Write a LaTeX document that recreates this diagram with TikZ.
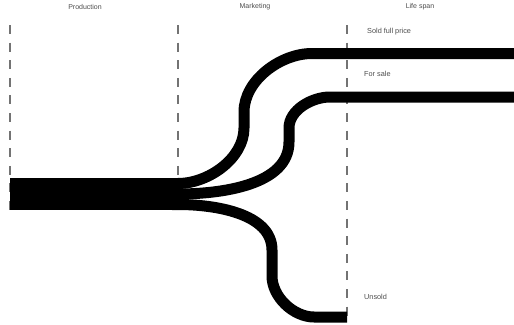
\documentclass[tikz,border=0pt]{standalone}
\usepackage{fontspec}
\setmainfont{Liberation Sans}
\begin{document}
\begin{tikzpicture}[x=1pt,y=-1pt,
  divider/.style={draw=black!55, line width=1.2pt, dash pattern=on 9pt off 8.6pt},
  stream/.style={draw=black, line width=11pt, line cap=butt},
  label/.style={font=\fontsize{7.3}{8}\selectfont, text=black!70, inner sep=0pt},
  head/.style={font=\fontsize{7}{8}\selectfont, text=black!70, inner sep=0pt}]
\useasboundingbox (0,0) rectangle (514,324);
% column headers
\node[head] (hprod) at (85,7) {Production};
\node[head] (hmark) at (255,7) {Marketing};
\node[head] (hlife) at (420,7) {Life span};
% dividers
\coordinate (d1t) at (10,25); \coordinate (d1b) at (10,211);
\coordinate (d2t) at (178,25); \coordinate (d2b) at (178,180);
\coordinate (d3t) at (347,25); \coordinate (d3b) at (347,322);
\draw[divider] (d1t) -- (d1b);
\draw[divider] (d2t) -- (d2b);
\draw[divider] (d3t) -- (d3b);
% main bar
\coordinate (src) at (10,194);
\coordinate (split) at (180,194);
\draw[draw=black, line width=32pt, line cap=butt] (src) -- (split);
% branch end points
\coordinate (e1) at (514,53.5);
\coordinate (e2) at (514,97);
\coordinate (e3) at (347,317);
% branches
\draw[stream] (172,183.5) -- (178,183.5) to[out=0,in=270,looseness=0.9] (244,128) -- (244,112) to[out=90,in=180,looseness=0.9] (312,53.5) -- (e1);
\draw[stream] (172,194) -- (178,194) to[out=0,in=270,looseness=0.9] (289,142) -- (289,128) to[out=90,in=180,looseness=0.9] (330,97) -- (e2);
\draw[stream] (172,204.5) -- (178,204.5) to[out=0,in=90,looseness=0.9] (272,250) -- (272,276) to[out=270,in=180,looseness=0.9] (314,317) -- (e3);
% labels
\node[label, anchor=west] (lsold) at (367,32) {Sold full price};
\node[label, anchor=west] (lsale) at (364,74) {For sale};
\node[label, anchor=west] (lunsold) at (364,297) {Unsold};
\end{tikzpicture}
\end{document}
